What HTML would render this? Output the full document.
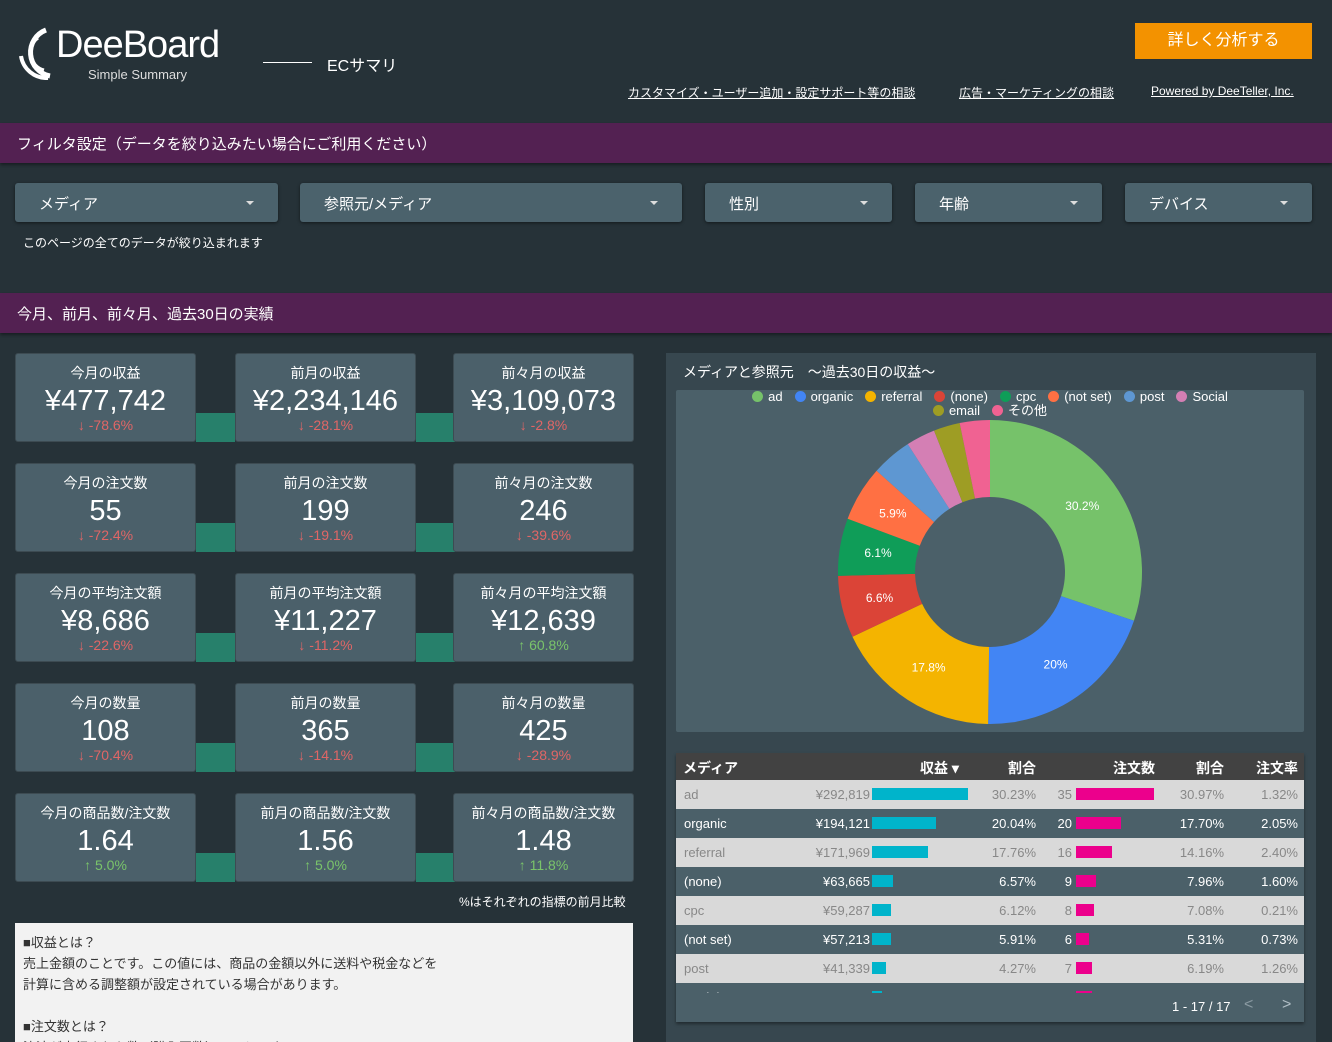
<!DOCTYPE html>
<html><head><meta charset="utf-8"><style>
*{margin:0;padding:0;box-sizing:border-box}
html,body{width:1332px;height:1042px;overflow:hidden}
body{background:#263238;font-family:"Liberation Sans","Noto Sans CJK JP",sans-serif;color:#fff;position:relative}
.a{position:absolute}
.bar{position:absolute;left:0;width:1332px;height:40px;background:#532152;font-size:15px;padding:10px 17px;box-shadow:0 2px 3px rgba(0,0,0,.4)}
.dd{position:absolute;top:183px;height:39px;background:#4b626c;border-radius:3px;font-size:15px;padding:10px 24px;box-shadow:0 1px 3px rgba(0,0,0,.5)}
.dd:after{content:"";position:absolute;right:24px;top:18px;border:4px solid transparent;border-top:4px solid #ddd;border-bottom:0}
.card{position:absolute;width:181px;height:89px;background:#4b606a;border:1px solid #3d4b52;border-radius:3px;text-align:center}
.card .t{font-size:14px;margin-top:9px}
.card .v{font-size:29px;line-height:32px;margin-top:2px}
.card .p{font-size:14px;color:#e06666;margin-top:0}
.card .p.g{color:#7ac46a}
.con{position:absolute;width:39px;height:29px;background:#27806b}
.tb{position:absolute;left:676px;width:628px;height:29px;font-size:13px}
.tb span{position:absolute;top:7px}
.r{text-align:right}
</style></head><body>
<svg class="a" style="left:16px;top:26px" width="44" height="54" viewBox="0 0 44 54">
<path d="M30 4 A24 24 0 0 0 34 50" fill="none" stroke="#fff" stroke-width="5"/>
<path d="M22 12 A18 18 0 0 0 28 44" fill="none" stroke="#fff" stroke-width="3"/>
<path d="M5 30 A26 26 0 0 0 32 52" fill="none" stroke="#fff" stroke-width="4"/>
</svg>
<div class="a" style="left:56px;top:24px;font-size:38px;letter-spacing:-1px;font-weight:300">DeeBoard</div>
<div class="a" style="left:88px;top:67px;font-size:13px;color:#ddd">Simple Summary</div>
<div class="a" style="left:263px;top:62px;width:49px;height:1px;background:#fff"></div>
<div class="a" style="left:327px;top:52px;font-size:16px">ECサマリ</div>
<div class="a" style="left:1135px;top:23px;width:177px;height:36px;background:#f39200;color:#fff;font-size:16px;text-align:center;line-height:36px">詳しく分析する</div>
<div class="a" style="left:628px;top:84px;font-size:12px;text-decoration:underline">カスタマイズ・ユーザー追加・設定サポート等の相談</div>
<div class="a" style="left:959px;top:84px;font-size:12px;text-decoration:underline">広告・マーケティングの相談</div>
<div class="a" style="left:1151px;top:84px;font-size:12px;text-decoration:underline">Powered by DeeTeller, Inc.</div>

<div class="bar" style="top:123px">フィルタ設定（データを絞り込みたい場合にご利用ください）</div>
<div class="dd" style="left:15px;width:263px">メディア</div>
<div class="dd" style="left:300px;width:382px">参照元/メディア</div>
<div class="dd" style="left:705px;width:187px">性別</div>
<div class="dd" style="left:915px;width:187px">年齢</div>
<div class="dd" style="left:1125px;width:187px">デバイス</div>
<div class="a" style="left:23px;top:234px;font-size:12px">このページの全てのデータが絞り込まれます</div>
<div class="bar" style="top:293px">今月、前月、前々月、過去30日の実績</div>

<div class="con" style="left:196px;top:413px"></div><div class="con" style="left:416px;top:413px"></div>
<div class="con" style="left:196px;top:523px"></div><div class="con" style="left:416px;top:523px"></div>
<div class="con" style="left:196px;top:633px"></div><div class="con" style="left:416px;top:633px"></div>
<div class="con" style="left:196px;top:743px"></div><div class="con" style="left:416px;top:743px"></div>
<div class="con" style="left:196px;top:853px"></div><div class="con" style="left:416px;top:853px"></div>

<div class="card" style="left:15px;top:353px"><div class="t">今月の収益</div><div class="v">¥477,742</div><div class="p">↓ -78.6%</div></div>
<div class="card" style="left:235px;top:353px"><div class="t">前月の収益</div><div class="v">¥2,234,146</div><div class="p">↓ -28.1%</div></div>
<div class="card" style="left:453px;top:353px"><div class="t">前々月の収益</div><div class="v">¥3,109,073</div><div class="p">↓ -2.8%</div></div>
<div class="card" style="left:15px;top:463px"><div class="t">今月の注文数</div><div class="v">55</div><div class="p">↓ -72.4%</div></div>
<div class="card" style="left:235px;top:463px"><div class="t">前月の注文数</div><div class="v">199</div><div class="p">↓ -19.1%</div></div>
<div class="card" style="left:453px;top:463px"><div class="t">前々月の注文数</div><div class="v">246</div><div class="p">↓ -39.6%</div></div>
<div class="card" style="left:15px;top:573px"><div class="t">今月の平均注文額</div><div class="v">¥8,686</div><div class="p">↓ -22.6%</div></div>
<div class="card" style="left:235px;top:573px"><div class="t">前月の平均注文額</div><div class="v">¥11,227</div><div class="p">↓ -11.2%</div></div>
<div class="card" style="left:453px;top:573px"><div class="t">前々月の平均注文額</div><div class="v">¥12,639</div><div class="p g">↑ 60.8%</div></div>
<div class="card" style="left:15px;top:683px"><div class="t">今月の数量</div><div class="v">108</div><div class="p">↓ -70.4%</div></div>
<div class="card" style="left:235px;top:683px"><div class="t">前月の数量</div><div class="v">365</div><div class="p">↓ -14.1%</div></div>
<div class="card" style="left:453px;top:683px"><div class="t">前々月の数量</div><div class="v">425</div><div class="p">↓ -28.9%</div></div>
<div class="card" style="left:15px;top:793px"><div class="t">今月の商品数/注文数</div><div class="v">1.64</div><div class="p g">↑ 5.0%</div></div>
<div class="card" style="left:235px;top:793px"><div class="t">前月の商品数/注文数</div><div class="v">1.56</div><div class="p g">↑ 5.0%</div></div>
<div class="card" style="left:453px;top:793px"><div class="t">前々月の商品数/注文数</div><div class="v">1.48</div><div class="p g">↑ 11.8%</div></div>

<div class="a" style="left:459px;top:893px;font-size:12px">%はそれぞれの指標の前月比較</div>
<div class="a" style="left:15px;top:923px;width:618px;height:119px;overflow:hidden;background:#f2f2f2;color:#333;font-size:13px;line-height:21px;padding:9px 8px">■収益とは？<br>売上金額のことです。この値には、商品の金額以外に送料や税金などを<br>計算に含める調整額が設定されている場合があります。<br><br>■注文数とは？<br>決済が実行された数（購入回数）のことです。</div>

<div class="a" style="left:666px;top:353px;width:650px;height:689px;background:#37474f"></div>
<div class="a" style="left:683px;top:362px;font-size:14px">メディアと参照元　～過去30日の収益～</div>
<div class="a" style="left:676px;top:390px;width:628px;height:342px;background:#4b6069;border-radius:2px"></div>
<div class="a" style="left:676px;top:390px;width:628px;font-size:13px;color:#fff;text-align:center;line-height:14px" id="lg"></div>
<svg class="a" style="left:676px;top:390px" width="628" height="342" id="pie"></svg>

<div class="a" style="left:676px;top:753px;width:628px;height:269px;background:#4b6069;box-shadow:0 2px 3px rgba(0,0,0,.4)"></div>
<div class="tb" style="top:753px;height:27px;background:#424242;font-weight:bold;font-size:14px">
<span style="left:7px;top:5px">メディア</span><span style="left:244px;top:5px">収益 ▾</span><span style="right:268px;top:5px">割合</span><span style="right:149px;top:5px">注文数</span><span style="right:80px;top:5px">割合</span><span style="right:6px;top:5px">注文率</span></div>
<div id="rows"></div>
<div class="a" style="left:676px;top:993px;width:628px;height:29px;background:#4b6069"></div>
<div class="a" style="left:1172px;top:999px;font-size:13px">1 - 17 / 17</div>
<div class="a" style="left:1244px;top:996px;font-size:16px;color:#8a9aa2">&lt;</div>
<div class="a" style="left:1282px;top:996px;font-size:16px;color:#b0bec5">&gt;</div>

<script>
var rows=[["ad","¥292,819",30.23,"30.23%","35",35,"30.97%","1.32%"],
["organic","¥194,121",20.04,"20.04%","20",20,"17.70%","2.05%"],
["referral","¥171,969",17.76,"17.76%","16",16,"14.16%","2.40%"],
["(none)","¥63,665",6.57,"6.57%","9",9,"7.96%","1.60%"],
["cpc","¥59,287",6.12,"6.12%","8",8,"7.08%","0.21%"],
["(not set)","¥57,213",5.91,"5.91%","6",6,"5.31%","0.73%"],
["post","¥41,339",4.27,"4.27%","7",7,"6.19%","1.26%"],
["Social","¥30,087",3.1,"3.11%","7",7,"6.65%","17.54%"]];
var h="";
rows.forEach(function(r,i){var top=780+i*29;var light=i%2==0;var c=light?"#888":"#fff";
var hh=i==7?13:29;
h+='<div class="tb" style="top:'+top+'px;height:'+hh+'px;overflow:hidden;background:'+(light?"#d9d9d9":"#4b6069")+';color:'+c+'">'+
'<span style="left:8px">'+r[0]+'</span><span class="r" style="right:434px">'+r[1]+'</span>'+
'<div style="position:absolute;left:196px;top:8px;height:12px;width:'+(r[2]/30.23*96)+'px;background:#00b4cb"></div>'+
'<span style="right:268px">'+r[3]+'</span><span style="right:232px">'+r[4]+'</span>'+
'<div style="position:absolute;left:400px;top:8px;height:12px;width:'+(r[5]/35*78)+'px;background:#ec008c"></div>'+
'<span style="right:80px">'+r[6]+'</span><span style="right:6px">'+r[7]+'</span></div>';});
document.getElementById("rows").innerHTML=h;
var seg=[["ad",30.2,"#76c26a"],["organic",20,"#4285f4"],["referral",17.8,"#f4b400"],["(none)",6.6,"#db4437"],["cpc",6.1,"#0f9d58"],["(not set)",5.9,"#ff7043"],["post",4.3,"#5e97d2"],["Social",3.1,"#d47fb4"],["email",2.8,"#9e9d24"],["その他",3.2,"#f06292"]];
var cx=314,cy=182,R=152,r0=75,a=0,s="";
function pt(rad,ang){return [cx+rad*Math.sin(ang),cy-rad*Math.cos(ang)];}
seg.forEach(function(g){var a1=a+g[1]/100*2*Math.PI;var l=(a1-a)>Math.PI?1:0;
var p1=pt(R,a),p2=pt(R,a1),p3=pt(r0,a1),p4=pt(r0,a);
s+='<path d="M'+p1+' A'+R+' '+R+' 0 '+l+' 1 '+p2+' L'+p3+' A'+r0+' '+r0+' 0 '+l+' 0 '+p4+'Z" fill="'+g[2]+'"/>';
if(g[1]>5){var m=pt((R+r0)/2,(a+a1)/2);s+='<text x="'+m[0]+'" y="'+(m[1]+4)+'" fill="#fff" font-size="12" text-anchor="middle" font-family="Liberation Sans">'+(g[1]==20?"20%":g[1]+"%")+'</text>';}
a=a1;});
document.getElementById("pie").innerHTML=s;
var lg="";seg.forEach(function(g,i){if(i==8)lg+="<br>";lg+='<span style="margin:0 6px"><span style="display:inline-block;width:11px;height:11px;border-radius:50%;background:'+g[2]+';vertical-align:-1px;margin-right:5px"></span>'+g[0]+'</span>';});
document.getElementById("lg").innerHTML=lg;
</script>
</body></html>
